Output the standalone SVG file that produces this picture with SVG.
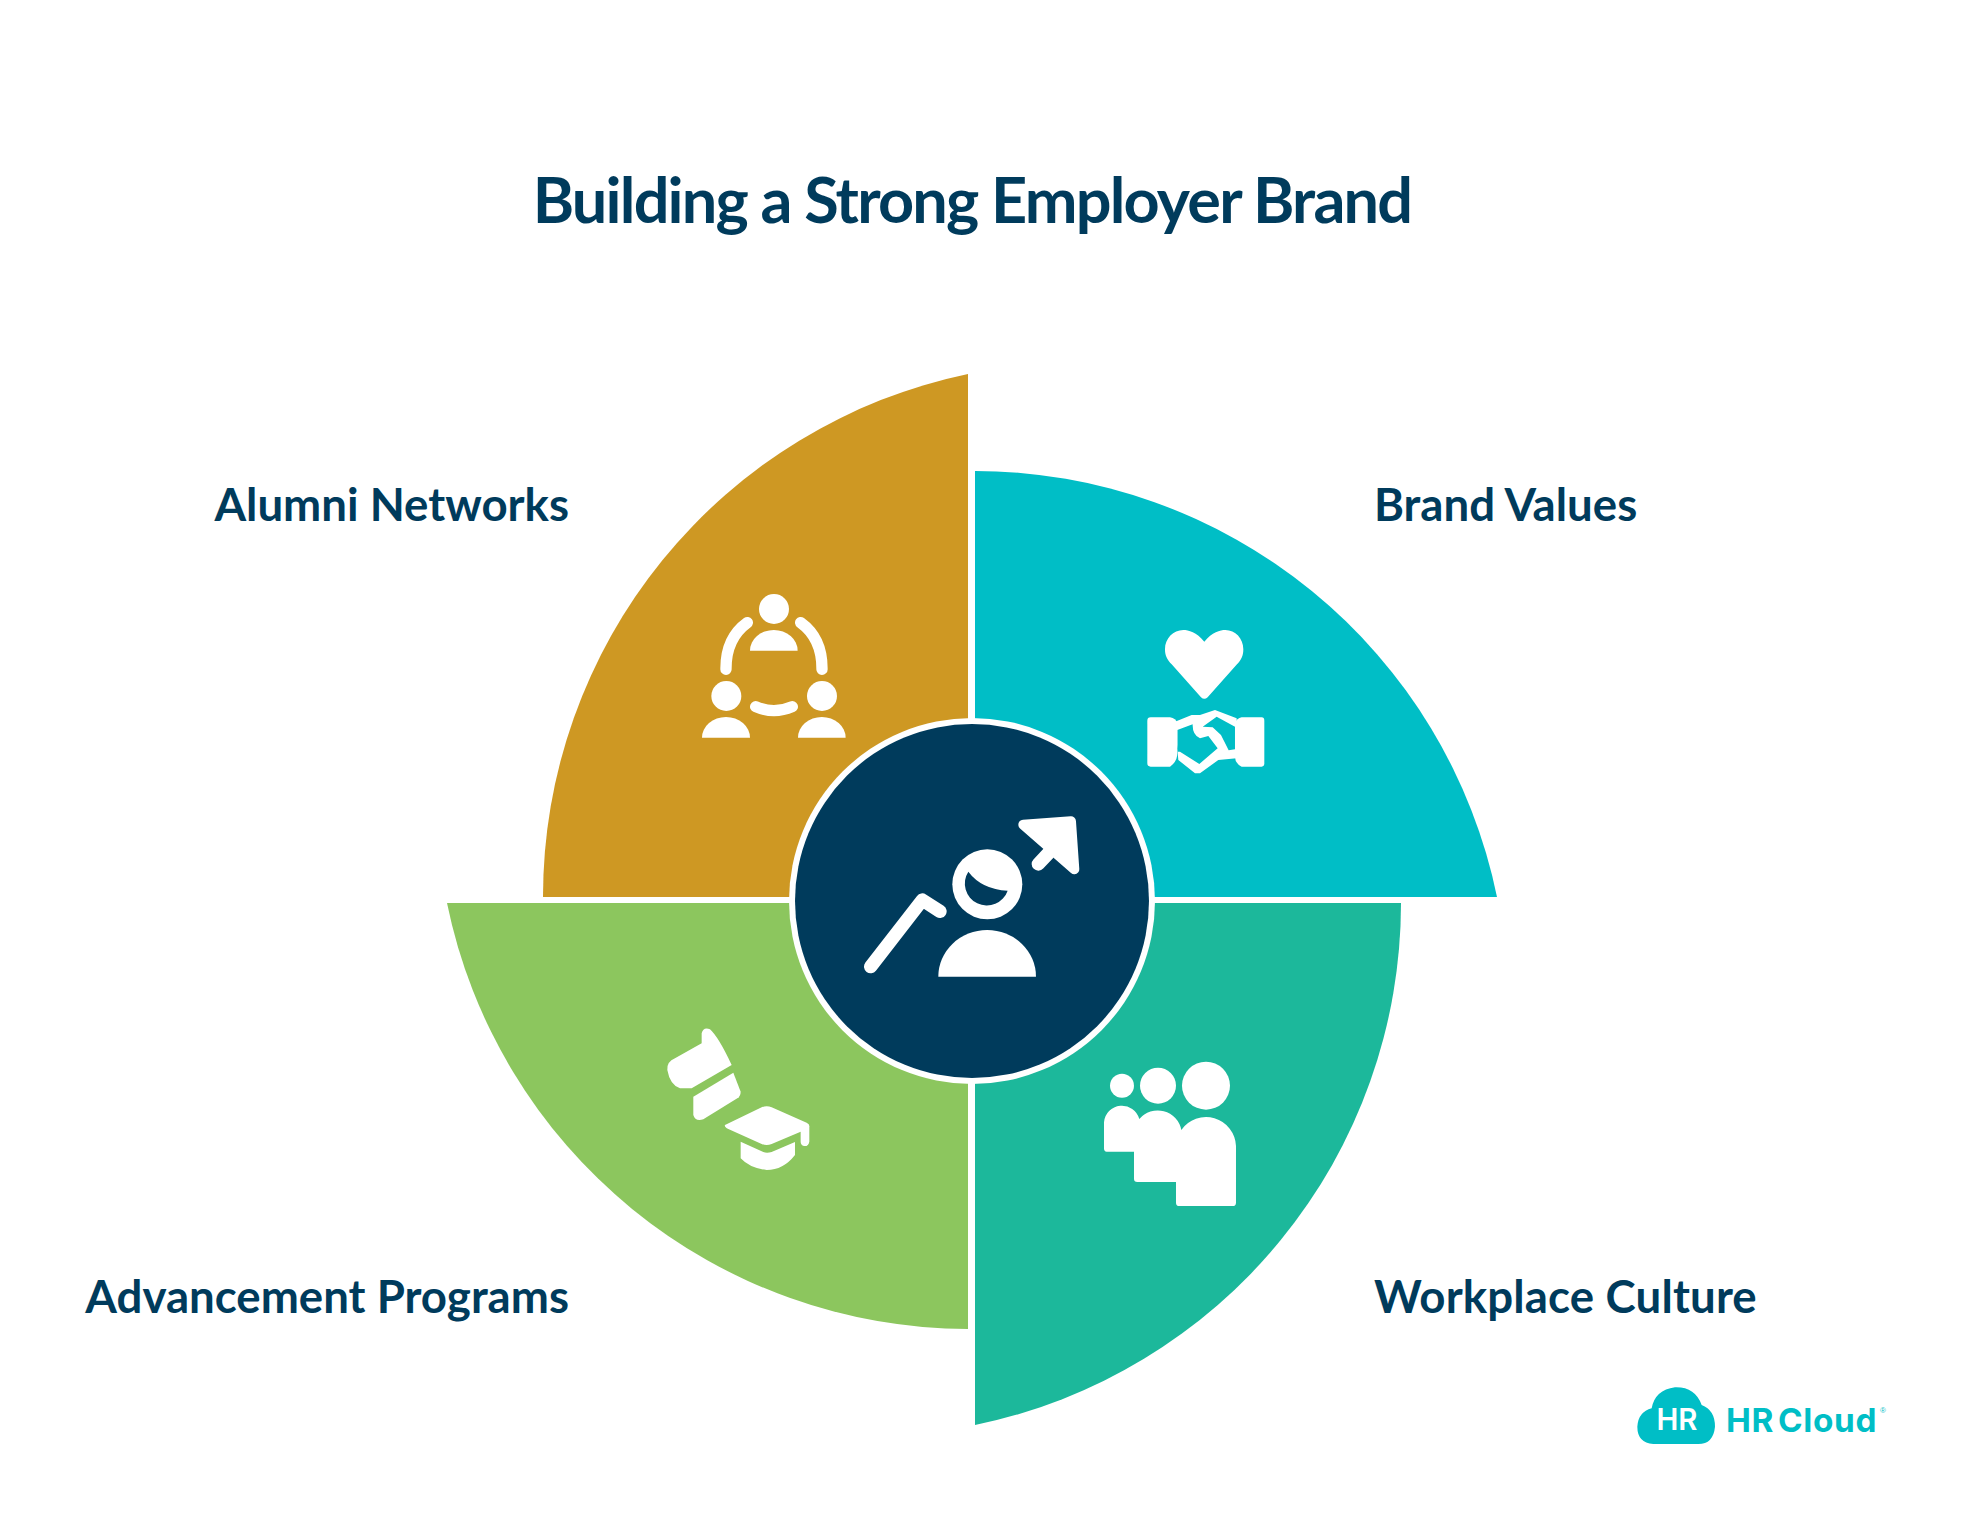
<svg xmlns="http://www.w3.org/2000/svg" width="1979" height="1526" viewBox="0 0 1979 1526">
<style>
.t{font-family:Lato,"Liberation Sans",sans-serif;font-weight:700;fill:#003B5C}
.l{font-size:45.6px}
.w{fill:#fff}
.s{fill:none;stroke:#fff;stroke-linecap:round;stroke-linejoin:round}
</style>
<rect width="1979" height="1526" fill="#fff"/>
<text class="t" x="972" y="223" font-size="63" letter-spacing="-1.8" text-anchor="middle" id="title">Building a Strong Employer Brand</text>
<g id="alumni">
<path fill="#CE9823" d="M968 374V897H543A534 534 0 0 1 968 374Z"/>
<g transform="translate(680 570) scale(.3333)">
<circle class="w" cx="282" cy="117" r="45"/><path class="w" d="M210 242A71.5 62 0 0 1 353 242Z"/>
<circle class="w" cx="139" cy="378" r="45"/><path class="w" d="M66 503A72 62 0 0 1 210 503Z"/>
<circle class="w" cx="426" cy="378" r="45"/><path class="w" d="M354 503A71.5 62 0 0 1 497 503Z"/>
<path class="s" stroke-width="34" d="M202 158Q137 205 138 298M362 158Q427 205 426 298M227 410Q282 434 337 410"/>
</g>
<text class="t l" x="569" y="521" text-anchor="end" font-size="45">Alumni Networks</text>
</g>
<g id="brand-values">
<path fill="#00BEC6" d="M975 471A533 533 0 0 1 1497 897H975Z"/>
<g transform="translate(1120 610) scale(.3333)">
<path class="w" d="M253 95C230 66 205 60 190 60C160 60 135 85 135 118C135 138 142 150 155 163L243 262Q253 271 263 262L351 163C364 150 370 138 370 118C370 85 346 60 316 60C301 60 276 66 253 95Z"/>
<path class="w" d="M92 322H150Q168 325 172 340V430Q172 455 150 470H92Q82 470 82 460V332Q82 322 92 322Z"/>
<path class="w" d="M425 322H365Q350 325 345 340V440Q345 460 365 470H425Q433 470 433 460V332Q433 322 425 322Z"/>
<path class="w" fill-rule="evenodd" d="M165 335L215 315H240L285 300L350 325V445L295 450L240 490H225L175 450ZM172 360L218 343Q217 375 240 385L265 378L293 415L238 462L180 425L172 425ZM248 350L290 320L345 350V418L326 421L303 375L278 352Z"/>
</g>
<text class="t l" x="1374" y="521">Brand Values</text>
</g>
<g id="workplace">
<path fill="#1CB89B" d="M1401 903A533 533 0 0 1 975 1425V903Z"/>
<g transform="translate(1090 1050) scale(.3333)">
<circle class="w" cx="96" cy="107" r="36"/><circle class="w" cx="204" cy="107" r="54"/><circle class="w" cx="348" cy="107" r="72"/>
<path class="w" d="M50 305Q42 305 42 295V217A54 54 0 0 1 148 207A72 72 0 0 1 274 240A90 90 0 0 1 438 288V458Q438 468 428 468H268Q258 468 258 458V396H142Q132 396 132 386V305Z"/>
</g>
<text class="t l" x="1374" y="1313" letter-spacing=".15">Workplace Culture</text>
</g>
<g id="advancement">
<path fill="#8CC65E" d="M968 1329A533 533 0 0 1 447 903H968Z"/>
<g transform="translate(650 1020) scale(.3333)">
<path class="w" d="M155 70V40Q160 20 180 28Q205 50 245 135L125 205H90Q60 195 52 150Q50 125 75 115Z"/>
<path class="w" d="M130 230L250 158L272 215Q272 228 262 235L160 298Q135 305 130 285Z"/>
<path class="w" d="M225 315L335 262Q350 255 365 262L470 308Q480 312 478 322V365Q475 380 462 378Q452 375 452 365V335L365 372Q350 378 335 372L235 327Q222 320 225 315Z"/>
<path class="w" d="M272 365L340 396Q350 400 365 396L435 366V405Q400 450 350 450Q300 445 272 415Z"/>
</g>
<text class="t l" x="569" y="1313" text-anchor="end">Advancement Programs</text>
</g>
<g id="center">
<circle cx="972" cy="901" r="183" fill="#fff"/>
<circle cx="972" cy="901" r="177" fill="#003B5C"/>
<g transform="translate(840 790) scale(.3333)">
<circle class="w" cx="442" cy="283" r="105"/>
<path fill="#003B5C" d="M385 245Q425 298 503 302A66 66 0 1 1 385 245Z"/>
<path class="w" d="M295 560A146.5 140 0 0 1 588 560Z"/>
<path class="s" stroke-width="40" d="M92 530L247 330L300 364M595 222L625 190"/>
<path class="w" stroke="#fff" stroke-width="30" stroke-linejoin="round" d="M550 104L693 94L703 238Z"/>
</g>
</g>
<g id="logo" transform="translate(1620 1370) scale(.3333)">
<path fill="#00BEC6" d="M100 222Q52 218 52 170Q55 125 95 115Q105 60 165 52Q225 50 245 105Q285 120 285 170Q280 222 235 222Z"/>
<text x="171" y="180" text-anchor="middle" font-family="Inter,'Liberation Sans',sans-serif" font-weight="600" font-size="88" fill="#fff">HR</text>
<text x="318" y="185" letter-spacing="2" word-spacing="-14" font-family="Inter,'Liberation Sans',sans-serif" font-weight="700" font-size="100" fill="#00BEC6">HR Cloud</text>
<text x="780" y="130" font-family="'Liberation Sans',sans-serif" font-size="24" fill="#00BEC6">®</text>
</g>
</svg>
